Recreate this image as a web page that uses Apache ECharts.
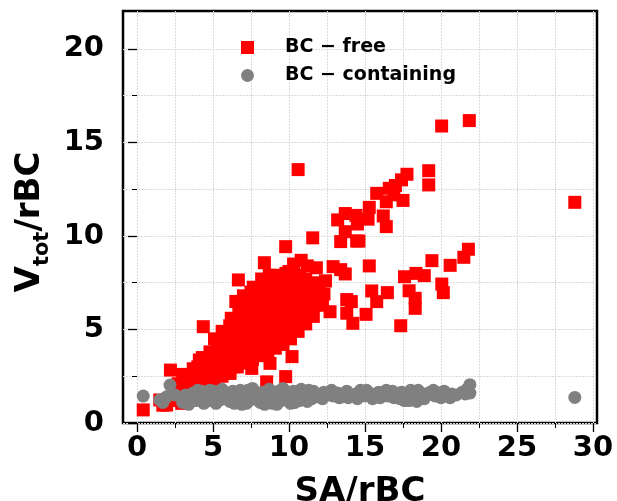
<!DOCTYPE html>
<html>
<head>
<meta charset="utf-8">
<script src="https://cdn.jsdelivr.net/npm/echarts@6/dist/echarts.min.js"></script>
<style>html,body{margin:0;padding:0;background:#fff}#c{width:617px;height:501px}</style>
</head>
<body>
<div id="c"></div>
<script>
const seriesNames = ['BC \u2212 free', 'BC \u2212 containing'];
const xTicksMajor = [0, 5, 10, 15, 20, 25, 30];
const xTicksAll = [0, 2.5, 5, 7.5, 10, 12.5, 15, 17.5, 20, 22.5, 25, 27.5, 30];
const yTicksMajor = [0, 5, 10, 15, 20];
const yTicksAll = [0, 2.5, 5, 7.5, 10, 12.5, 15, 17.5, 20];

const bcFree = [
  [0.41,0.7],[1.5,1.23],[1.95,0.96],[2.94,1.05],[2.3,1.2],[1.7,0.95],
  [2.2,2.83],[3.16,2.3],[3.05,1.94],[4.1,3.37],[4.6,3.37],[5.24,4.44],[4.36,5.15],
  [7.55,2.92],[8.75,3.19],[8.53,2.2],[9.78,2.48],[10.2,3.55],[5.46,2.65],[6.12,2.65],[6.34,3.0],
  [6.67,7.65],[7.65,7.26],[8.38,8.57],[9.78,9.43],[11.56,9.9],
  [10.3,8.5],[10.8,8.7],[11.2,8.4],[11.8,8.3],[12.9,8.36],[13.7,7.97],[13.4,8.2],[12.0,7.1],
  [13.2,10.86],[13.7,10.23],[13.4,9.7],[14.6,9.73],[14.45,9.73],[13.7,11.2],[14.4,11.1],[14.5,10.64],
  [15.2,10.9],[16.2,11.07],[16.4,10.5],[15.28,11.53],[16.4,11.83],[17.5,11.9],[15.77,12.28],[16.6,12.55],
  [17.4,13.0],[17.76,13.3],[17.0,12.7],[16.9,12.2],
  [10.6,13.55],[19.19,13.49],[19.19,12.73],[20.04,15.88],[21.86,16.17],[28.8,11.8],
  [21.8,9.29],[21.5,8.86],[20.6,8.43],[19.4,8.68],
  [15.28,8.4],[17.6,7.82],[18.35,8.0],[18.9,7.88],[20.05,7.43],[20.15,6.97],[15.44,7.06],[16.47,6.97],
  [17.9,7.07],[18.3,6.67],[18.3,6.13],[15.77,6.49],[14.1,6.49],[15.07,5.81],[14.2,5.33],[17.35,5.2],[12.7,5.95],
  [13.8,6.6],[13.8,5.87],
  [2.6,1.5],[2.7,2.1],
  [3.1,1.6],[3.2,2.2],[3.0,2.6],
  [3.6,1.7],[3.5,2.3],[3.7,2.9],
  [4.1,1.9],[4.2,2.5],[4.0,3.0],[4.3,3.5],
  [4.6,2.1],[4.7,2.7],[4.5,3.2],[4.8,3.8],
  [5.1,2.3],[5.2,2.9],[5.0,3.5],[5.3,4.0],[5.1,4.5],
  [5.6,2.5],[5.7,3.1],[5.5,3.7],[5.8,4.3],[5.6,4.9],
  [6.1,2.8],[6.2,3.4],[6.0,4.0],[6.3,4.6],[6.1,5.2],[6.2,5.6],
  [6.6,3.0],[6.7,3.6],[6.5,4.2],[6.8,4.8],[6.6,5.4],[6.7,6.0],[6.5,6.5],
  [7.1,3.2],[7.2,3.8],[7.0,4.4],[7.3,5.0],[7.1,5.6],[7.2,6.2],[7.0,6.8],
  [7.6,3.4],[7.7,4.0],[7.5,4.6],[7.8,5.2],[7.6,5.8],[7.7,6.4],[7.5,7.0],
  [8.1,3.6],[8.2,4.2],[8.0,4.8],[8.3,5.4],[8.1,6.0],[8.2,6.6],[8.0,7.2],[8.2,7.7],
  [8.6,3.8],[8.7,4.4],[8.5,5.0],[8.8,5.6],[8.6,6.2],[8.7,6.8],[8.5,7.4],[8.7,7.9],
  [9.1,4.0],[9.2,4.6],[9.0,5.2],[9.3,5.8],[9.1,6.4],[9.2,7.0],[9.0,7.6],[9.2,7.9],
  [9.6,4.2],[9.7,4.8],[9.5,5.4],[9.8,6.0],[9.6,6.6],[9.7,7.2],[9.5,7.8],[9.8,8.0],
  [10.1,4.5],[10.2,5.1],[10.0,5.7],[10.3,6.3],[10.1,6.9],[10.2,7.5],[10.0,8.1],
  [10.6,4.9],[10.7,5.5],[10.5,6.1],[10.8,6.7],[10.6,7.3],[10.7,7.9],
  [11.1,5.3],[11.2,5.9],[11.0,6.5],[11.3,7.1],[11.1,7.7],
  [11.6,5.7],[11.7,6.3],[11.5,6.9],[11.8,7.5],
  [12.2,6.3],[12.3,6.9],[12.4,7.6]
];

const bcContaining = [
  [0.41,1.44],[1.5,1.23],[1.95,1.4],[2.17,2.03],[1.7,1.1],[2.5,1.5],
  [3.0,1.1],[3.2,1.5],[3.5,1.3],[3.7,1.6],[3.9,1.2],[4.1,1.5],[4.3,1.7],[4.5,1.3],[4.7,1.55],[4.9,1.2],
  [5.1,1.7],[5.3,1.4],[5.5,1.25],[5.7,1.6],[5.9,1.45],[6.1,1.15],[6.3,1.7],[6.5,1.35],[6.7,1.55],[6.9,1.0],
  [7.1,1.4],[7.3,1.75],[7.5,1.25],[7.7,1.6],[7.9,1.45],[8.1,1.1],[8.3,1.65],[8.5,1.3],[8.7,1.8],[8.9,1.05],
  [9.1,1.5],[9.3,1.7],[9.5,1.2],[9.7,1.6],[9.9,1.35],[10.1,1.05],[10.3,1.7],[10.5,1.4],[10.7,1.2],[10.9,1.6],
  [11.1,1.45],[11.3,1.75],[11.5,1.3],[11.8,1.55],[12.0,1.4],[12.3,1.65],[12.6,1.5],[12.9,1.45],[13.2,1.6],
  [13.5,1.4],[13.8,1.7],[14.1,1.5],[14.4,1.55],[14.7,1.75],[15.0,1.45],[15.3,1.6],[15.6,1.5],[15.9,1.65],
  [16.2,1.55],[16.5,1.45],[16.8,1.7],[17.1,1.5],[17.4,1.65],[17.6,1.2],[17.8,1.55],[18.0,1.75],[18.2,1.4],
  [18.4,1.15],[18.7,1.5],[19.0,1.55],[19.3,1.65],[19.6,1.45],[19.9,1.6],[20.2,1.7],[20.4,1.45],[20.7,1.55],
  [21.4,1.65],[21.7,1.8],[21.9,2.05],[21.9,1.6],[28.8,1.37],
  [3.4,1.0],[4.0,1.75],[4.4,1.05],[4.8,1.75],[5.2,1.05],[5.6,1.8],[6.0,1.5],[6.4,1.05],[6.8,1.75],[7.2,1.05],
  [7.6,1.85],[8.0,1.6],[8.4,1.0],[8.8,1.45],[9.2,1.0],[9.6,1.85],[10.0,1.6],[10.4,1.1],[10.8,1.8],[11.2,1.15],
  [11.6,1.7],[12.2,1.3],[12.8,1.75],[13.3,1.35],[13.9,1.35],[14.5,1.3],[15.1,1.75],[15.5,1.3],[16.0,1.35],
  [16.4,1.75],[16.9,1.35],[17.3,1.3],[17.9,1.2],[18.5,1.75],[18.9,1.3],[19.5,1.75],[20.0,1.35],[20.6,1.35],
  [21.0,1.5],[21.6,1.55]
];

const FONT = 'DejaVu Sans';
const chart = echarts.init(document.getElementById('c'), null, {renderer: 'canvas'});
const gridStyle = {color: '#dcdcdc', width: 1, type: [2, 1]};
const baseX = {type: 'value', min: -0.92, max: 30.26, gridIndex: 0, position: 'bottom'};
const baseY = {type: 'value', min: 0, max: 22.03, gridIndex: 0, position: 'left'};

const gridMarkData = xTicksAll.map(v => ({xAxis: v})).concat(yTicksAll.map(v => ({yAxis: v})));

chart.setOption({
  animation: false,
  backgroundColor: '#fff',
  grid: {left: 123, right: 20, top: 11, bottom: 78, outerBoundsMode: 'none', containLabel: false,
         show: true, borderColor: '#000', borderWidth: 2.5, backgroundColor: 'transparent'},
  legend: {
    orient: 'vertical', left: 241, top: 38, padding: 0, itemWidth: 13, itemHeight: 13, itemGap: 9,
    data: [{name: seriesNames[0], icon: 'rect'}, {name: seriesNames[1], icon: 'circle'}],
    textStyle: {fontFamily: FONT, fontWeight: 'bold', fontSize: 19, color: '#000', padding: [0, 0, 0, 26]}
  },
  xAxis: [
    Object.assign({}, baseX, {
      name: 'SA/rBC', nameLocation: 'middle', nameGap: 52,
      nameTextStyle: {fontFamily: FONT, fontWeight: 'bold', fontSize: 34, color: '#000'},
      axisLine: {show: false},
      axisTick: {show: true, customValues: xTicksAll, length: 5, lineStyle: {color: '#000', width: 1}},
      axisLabel: {customValues: xTicksMajor, margin: 11, fontFamily: FONT, fontWeight: 'bold', fontSize: 29, color: '#000'},
      splitLine: {show: false}
    }),
    Object.assign({}, baseX, {
      axisLine: {show: false},
      axisTick: {show: true, customValues: xTicksMajor, length: 9, lineStyle: {color: '#000', width: 1.3}},
      axisLabel: {show: false},
      splitLine: {show: false}
    })
  ],
  yAxis: [
    Object.assign({}, baseY, {
      name: '{v|V}{s|tot}{v|/rBC}', nameLocation: 'middle', nameGap: 70, nameRotate: 90,
      nameTextStyle: {
        padding: [0, 0, 0, -10],
        rich: {
          v: {fontFamily: FONT, fontWeight: 'bold', fontSize: 34, color: '#000', lineHeight: 40, verticalAlign: 'top'},
          s: {fontFamily: FONT, fontWeight: 'bold', fontSize: 21, color: '#000', lineHeight: 40, verticalAlign: 'bottom'}
        }
      },
      axisLine: {show: false},
      axisTick: {show: true, customValues: yTicksAll, length: 5, lineStyle: {color: '#000', width: 1}},
      axisLabel: {customValues: yTicksMajor, margin: 19, fontFamily: FONT, fontWeight: 'bold', fontSize: 29, color: '#000'},
      splitLine: {show: false}
    }),
    Object.assign({}, baseY, {
      axisLine: {show: false},
      axisTick: {show: true, customValues: yTicksMajor, length: 9, lineStyle: {color: '#000', width: 1.3}},
      axisLabel: {show: false},
      splitLine: {show: false}
    })
  ],
  series: [
    {name: 'grid', type: 'scatter', xAxisIndex: 0, yAxisIndex: 0, data: [], z: 0, silent: true,
     markLine: {silent: true, symbol: 'none', label: {show: false}, lineStyle: gridStyle,
                emphasis: {disabled: true}, data: gridMarkData, z: 0}},
    {name: seriesNames[0], type: 'scatter', xAxisIndex: 0, yAxisIndex: 0, data: bcFree, z: 2,
     symbol: 'rect', symbolSize: 13, itemStyle: {color: '#ff0000', opacity: 1}},
    {name: seriesNames[1], type: 'scatter', xAxisIndex: 0, yAxisIndex: 0, data: bcContaining, z: 3,
     symbol: 'circle', symbolSize: 13, itemStyle: {color: '#808080', opacity: 1}}
  ]
});
</script>
</body>
</html>
